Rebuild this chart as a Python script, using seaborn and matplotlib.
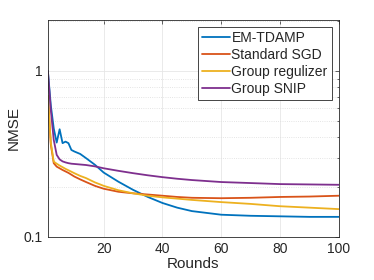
import numpy as np
import pandas as pd
import seaborn as sns
import matplotlib.pyplot as plt
from matplotlib.ticker import LogLocator, FuncFormatter, NullFormatter

rounds = [1, 2, 3, 4, 5, 6, 7, 8, 9, 10, 12, 14, 17, 20, 25, 30, 35, 40, 45, 50, 60, 70, 80, 90, 100]
em_tdamp = [1.0, 0.62, 0.45, 0.37, 0.445, 0.367, 0.375, 0.367, 0.334, 0.327, 0.316, 0.298, 0.272, 0.244,
            0.215, 0.192, 0.174, 0.16, 0.15, 0.143, 0.136, 0.134, 0.133, 0.132, 0.132]
standard_sgd = [0.707, 0.36, 0.278, 0.265, 0.259, 0.253, 0.248, 0.243, 0.237, 0.231, 0.222, 0.214, 0.203, 0.195,
                0.187, 0.183, 0.18, 0.177, 0.174, 0.172, 0.171, 0.172, 0.174, 0.175, 0.177]
group_reg = [0.707, 0.37, 0.284, 0.276, 0.269, 0.263, 0.257, 0.252, 0.247, 0.242, 0.233, 0.226, 0.213, 0.203,
             0.191, 0.183, 0.177, 0.173, 0.17, 0.167, 0.162, 0.158, 0.153, 0.15, 0.147]
group_snip = [1.0, 0.582, 0.384, 0.312, 0.293, 0.285, 0.281, 0.278, 0.276, 0.275, 0.273, 0.271, 0.266, 0.259,
              0.25, 0.242, 0.235, 0.229, 0.224, 0.22, 0.214, 0.211, 0.208, 0.207, 0.206]
methods = ['EM-TDAMP', 'Standard SGD', 'Group regulizer', 'Group SNIP']
colors = ['#0072BD', '#D95319', '#EDB120', '#7E2F8E']

df = pd.concat([
    pd.DataFrame({'Rounds': rounds, 'NMSE': vals, 'method': name})
    for name, vals in zip(methods, [em_tdamp, standard_sgd, group_reg, group_snip])
])

sns.set_theme(style="white")
plt.rcParams['font.family'] = ['Liberation Sans', 'DejaVu Sans']

fig = plt.figure(figsize=(3.74, 2.8), dpi=100)
ax = fig.add_axes([0.128, 0.154, 0.778, 0.775])
sns.lineplot(data=df, x='Rounds', y='NMSE', hue='method', palette=colors, linewidth=1.3, ax=ax)

ax.set_yscale('log')
ax.set_xlim(1, 100)
ax.set_ylim(0.1, 2.03)
ax.set_xticks([20, 40, 60, 80, 100])
ax.yaxis.set_major_locator(LogLocator(base=10, numticks=5))
ax.yaxis.set_minor_locator(LogLocator(base=10, subs=np.arange(2, 10), numticks=10))
ax.yaxis.set_major_formatter(FuncFormatter(lambda v, _: '{:g}'.format(v)))
ax.yaxis.set_minor_formatter(NullFormatter())

ax.grid(True, which='major', color='#e6e6e6', linewidth=0.6)
ax.grid(True, which='minor', axis='y', color='#dcdcdc', linestyle=':', linewidth=0.6)
ax.set_axisbelow(True)
for s in ax.spines.values():
    s.set_color('#262626')
    s.set_linewidth(0.6)
ax.tick_params(which='both', direction='in', top=True, right=True, color='#262626', width=0.5)
ax.tick_params(which='major', length=3, labelsize=10, colors='#262626', labelcolor='#262626')
ax.tick_params(which='minor', length=1.5)
ax.set_xlabel('Rounds', fontsize=11, color='#262626', labelpad=1)
ax.set_ylabel('NMSE', fontsize=11, color='#262626', labelpad=2)

leg = ax.legend(loc='upper right', fontsize=10, handlelength=2.0, handletextpad=0.1,
                borderpad=0.3, labelspacing=0.22, fancybox=False, framealpha=1,
                borderaxespad=0.5)
leg.get_frame().set_edgecolor('#262626')
leg.get_frame().set_linewidth(0.6)

plt.savefig('out.png', dpi=100)
